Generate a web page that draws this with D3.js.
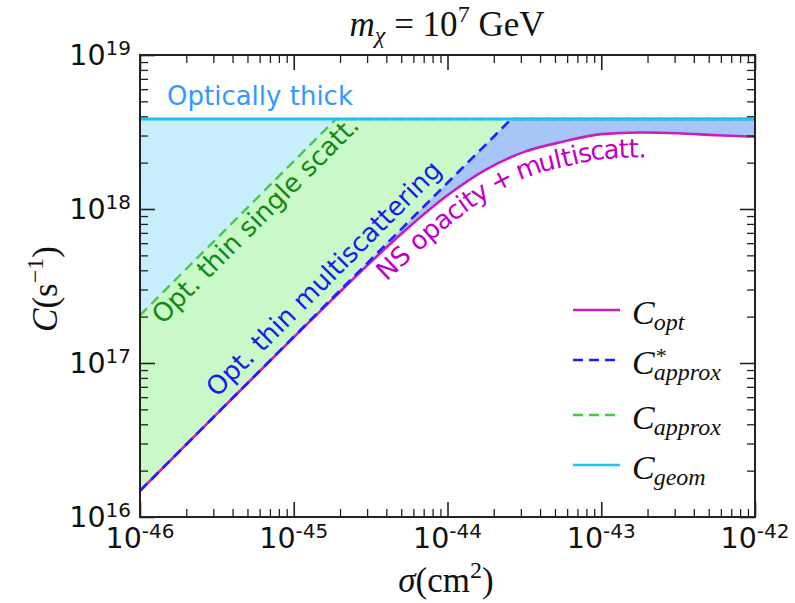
<!DOCTYPE html>
<html>
<head>
<meta charset="utf-8">
<script src="https://cdn.jsdelivr.net/npm/d3@7"></script>
<style>
  body { margin: 0; background: #fff; }
  svg { display: block; }
</style>
</head>
<body>
<svg id="chart" width="795" height="603"></svg>
<script>
// ---- data -------------------------------------------------------------
const sigmaTicks = [1e-46, 1e-45, 1e-44, 1e-43, 1e-42];
const sigmaTickExp = ["-46", "-45", "-44", "-43", "-42"];
const cTicks = [1e16, 1e17, 1e18, 1e19];
const cTickExp = ["16", "17", "18", "19"];

// geometric (optically thick) capture rate
const sigmaGeom = [1e-46, 1e-42];
const cGeom = [3.84e18, 3.84e18];

// optically thin, single scattering
const sigmaApprox = [1e-46, 1e-45, 1.88e-45, 1e-42];
const cApprox = [2.04e17, 2.04e18, 3.84e18, 3.84e18];

// optically thin, multiscattering
const sigmaApproxStar = [1e-46, 1e-45, 1e-44, 2.6e-44, 1e-42];
const cApproxStar = [1.48e16, 1.48e17, 1.48e18, 3.84e18, 3.84e18];

// NS opacity + multiscattering
const sigmaOpt = [1e-46, 3.16e-46, 1e-45, 1.78e-45, 3.16e-45, 5.62e-45, 1e-44,
                  1.78e-44, 3.16e-44, 5.62e-44, 1e-43, 1.78e-43, 3.16e-43, 5.62e-43, 1e-42];
const cOpt = [1.479e16, 4.67e16, 1.469e17, 2.588e17, 4.508e17, 7.638e17, 1.227e18,
              1.803e18, 2.35e18, 2.735e18, 3.062e18, 3.141e18, 3.105e18, 3.013e18, 2.944e18];

const legendNames = ["opt", "approx", "approx", "geom"];
const legendStar = [false, true, false, false];

// ---- layout -----------------------------------------------------------
const X0 = 140, X1 = 755, Y0 = 55, Y1 = 517;
const colOpt = "#c41ec4", colStar = "#1f1fff", colApprox = "#3ecf3e", colGeom = "#1cc4f6";
const fillSky = "#c9eefb", fillGreen = "#c9f8c9", fillBlue = "#a5c6f6";
const sans = "'DejaVu Sans', sans-serif";
const serif = "'Liberation Serif', 'DejaVu Serif', serif";

const svg = d3.select("#chart");
const x = d3.scaleLog().domain([1e-46, 1e-42]).range([X0, X1]);
const y = d3.scaleLog().domain([1e16, 1e19]).range([Y1, Y0]);

const pts = (xs, ys) => xs.map((s, i) => [x(s), y(ys[i])]);

const defs = svg.append("defs");
defs.append("clipPath").attr("id", "clip")
  .append("rect").attr("x", X0).attr("y", Y0).attr("width", X1 - X0).attr("height", Y1 - Y0);
const inner = svg.append("g").attr("clip-path", "url(#clip)");

// ---- fills ------------------------------------------------------------
const optArea = d3.area()
  .x((d, i) => x(sigmaOpt[i]))
  .y0(d => y(d))
  .y1(() => y(cGeom[0]))
  .curve(d3.curveMonotoneX);
inner.append("path").attr("d", optArea(cOpt)).attr("fill", fillBlue);

const greenPoly = pts(sigmaApprox, cApprox).concat(pts(sigmaApproxStar, cApproxStar).reverse());
inner.append("path").attr("d", d3.line()(greenPoly) + "Z").attr("fill", fillGreen);

const skyArea = d3.area()
  .x((d, i) => x(sigmaApprox[i]))
  .y0(d => y(d))
  .y1(() => y(cGeom[0]));
inner.append("path").attr("d", skyArea(cApprox)).attr("fill", fillSky);

// ---- curves -----------------------------------------------------------
const optLine = d3.line().curve(d3.curveMonotoneX);
inner.append("path").attr("id", "optPath")
  .attr("d", optLine(pts(sigmaOpt, cOpt)))
  .attr("fill", "none").attr("stroke", colOpt).attr("stroke-width", 2.6);

inner.append("path")
  .attr("d", d3.line()(pts(sigmaApprox, cApprox)))
  .attr("fill", "none").attr("stroke", colApprox).attr("stroke-width", 2.4)
  .attr("stroke-dasharray", "10,6");

inner.append("path")
  .attr("d", d3.line()(pts(sigmaApproxStar, cApproxStar)))
  .attr("fill", "none").attr("stroke", colStar).attr("stroke-width", 2.6)
  .attr("stroke-dasharray", "10,6");

inner.append("path")
  .attr("d", d3.line()(pts(sigmaGeom, cGeom)))
  .attr("fill", "none").attr("stroke", colGeom).attr("stroke-width", 3);

// ---- in-plot labels ---------------------------------------------------
svg.append("text").attr("x", 167).attr("y", 105)
  .attr("font-family", sans).attr("font-size", 26).attr("fill", "#3399ff")
  .text("Optically thick");

// straight guide paths along the rising part of the thin-limit lines
function guide(id, s, c) {
  const p0 = [x(s[0]), y(c[0])], p1 = [x(s[1]), y(c[1])];
  const p2 = [p0[0] + 4 * (p1[0] - p0[0]), p0[1] + 4 * (p1[1] - p0[1])];
  defs.append("path").attr("id", id).attr("d", d3.line()([p0, p2]));
}
guide("approxGuide", sigmaApprox, cApprox);
guide("starGuide", sigmaApproxStar, cApproxStar);

function pathLabel(href, txt, color, offset, dy) {
  svg.append("text")
    .attr("font-family", sans).attr("font-size", 26).attr("fill", color)
    .attr("dy", dy)
    .append("textPath").attr("href", href).attr("startOffset", offset)
    .text(txt);
}

// arc length along the C_opt curve up to a given cross-section
function lengthAt(sigma) {
  const node = d3.select("#optPath").node();
  const target = x(sigma);
  let lo = 0, hi = node.getTotalLength();
  for (let k = 0; k < 40; k++) {
    const mid = (lo + hi) / 2;
    if (node.getPointAtLength(mid).x < target) lo = mid; else hi = mid;
  }
  return lo;
}

pathLabel("#approxGuide", "Opt. thin single scatt.", "#128a12", 9, 23);
pathLabel("#starGuide", "Opt. thin multiscattering", "#1a1af0", 120, -11);
pathLabel("#optPath", "NS opacity + multiscatt.", "#c000c0", lengthAt(3.1e-45), 25);

// ---- axes -------------------------------------------------------------
const minorX = x.ticks().filter(v => !sigmaTicks.some(t => Math.abs(t / v - 1) < 1e-6));
const minorY = y.ticks().filter(v => !cTicks.some(t => Math.abs(t / v - 1) < 1e-6));

function styleAxis(g, w) {
  g.select(".domain").remove();
  g.selectAll(".tick line").attr("stroke", "#222").attr("stroke-width", w);
  g.selectAll(".tick text").remove();
}
const axes = svg.append("g");
[[d3.axisBottom, Y1, x], [d3.axisTop, Y0, x]].forEach(([fn, pos, sc]) => {
  axes.append("g").attr("transform", `translate(0,${pos})`)
    .call(fn(sc).tickValues(sigmaTicks).tickSize(-15).tickFormat(""))
    .call(g => styleAxis(g, 1.6));
  axes.append("g").attr("transform", `translate(0,${pos})`)
    .call(fn(sc).tickValues(minorX).tickSize(-8).tickFormat(""))
    .call(g => styleAxis(g, 1.3));
});
[[d3.axisLeft, X0, y], [d3.axisRight, X1, y]].forEach(([fn, pos, sc]) => {
  axes.append("g").attr("transform", `translate(${pos},0)`)
    .call(fn(sc).tickValues(cTicks).tickSize(-15).tickFormat(""))
    .call(g => styleAxis(g, 1.6));
  axes.append("g").attr("transform", `translate(${pos},0)`)
    .call(fn(sc).tickValues(minorY).tickSize(-8).tickFormat(""))
    .call(g => styleAxis(g, 1.3));
});
axes.append("rect").attr("x", X0).attr("y", Y0).attr("width", X1 - X0).attr("height", Y1 - Y0)
  .attr("fill", "none").attr("stroke", "#222").attr("stroke-width", 2);

// tick labels 10^n
sigmaTicks.forEach((v, i) => {
  const t = svg.append("text").attr("x", x(v)).attr("y", 548)
    .attr("text-anchor", "middle").attr("font-family", sans).attr("fill", "#111");
  t.append("tspan").attr("font-size", 28.5).text("10");
  t.append("tspan").attr("font-size", 20).attr("dy", -10).text(sigmaTickExp[i]);
});
cTicks.forEach((v, i) => {
  const t = svg.append("text").attr("x", 131).attr("y", y(v) + 10)
    .attr("text-anchor", "end").attr("font-family", sans).attr("fill", "#111");
  t.append("tspan").attr("font-size", 28.5).text("10");
  t.append("tspan").attr("font-size", 20).attr("dy", -10).text(cTickExp[i]);
});

// ---- titles -----------------------------------------------------------
const title = svg.append("text").attr("x", 447).attr("y", 36)
  .attr("text-anchor", "middle").attr("font-family", serif).attr("font-size", 35).attr("fill", "#111");
title.append("tspan").attr("font-style", "italic").text("m");
title.append("tspan").attr("font-style", "italic").attr("font-size", 24).attr("dy", 7).text("χ");
title.append("tspan").attr("dy", -7).text(" = 10");
title.append("tspan").attr("font-size", 24).attr("dy", -14).text("7");
title.append("tspan").attr("dy", 14).text(" GeV");

const xl = svg.append("text").attr("x", 446).attr("y", 592)
  .attr("text-anchor", "middle").attr("font-family", serif).attr("font-size", 35).attr("fill", "#111");
xl.append("tspan").attr("font-style", "italic").text("σ");
xl.append("tspan").text("(cm");
xl.append("tspan").attr("font-size", 24).attr("dy", -14).text("2");
xl.append("tspan").attr("dy", 14).text(")");

const yl = svg.append("text").attr("transform", "translate(57,289) rotate(-90)")
  .attr("text-anchor", "middle").attr("font-family", serif).attr("font-size", 35).attr("fill", "#111");
yl.append("tspan").attr("font-style", "italic").text("C");
yl.append("tspan").text("(s");
yl.append("tspan").attr("font-size", 24).attr("dy", -14).text("−1");
yl.append("tspan").attr("dy", 14).text(")");

// ---- legend -----------------------------------------------------------
const legY = [310, 360, 415, 465];
const legStyle = [
  { c: colOpt, dash: null },
  { c: colStar, dash: "10,6" },
  { c: colApprox, dash: "10,6" },
  { c: colGeom, dash: null }
];
legendNames.forEach((name, i) => {
  const g = svg.append("g");
  g.append("line").attr("x1", 573).attr("x2", 620).attr("y1", legY[i]).attr("y2", legY[i])
    .attr("stroke", legStyle[i].c).attr("stroke-width", 2.6)
    .attr("stroke-dasharray", legStyle[i].dash);
  const c = g.append("text").attr("x", 632).attr("y", legY[i] + 14)
    .attr("font-family", serif).attr("font-style", "italic").attr("font-size", 34).attr("fill", "#111")
    .text("C");
  const w = c.node().getComputedTextLength();
  g.append("text").attr("x", 632 + w - 1).attr("y", legY[i] + 20)
    .attr("font-family", serif).attr("font-style", "italic").attr("font-size", 24).attr("fill", "#111")
    .text(name);
  if (legendStar[i]) {
    g.append("text").attr("x", 632 + w + 1).attr("y", legY[i] + 3)
      .attr("font-family", serif).attr("font-size", 22).attr("fill", "#111").text("*");
  }
});
</script>
</body>
</html>
